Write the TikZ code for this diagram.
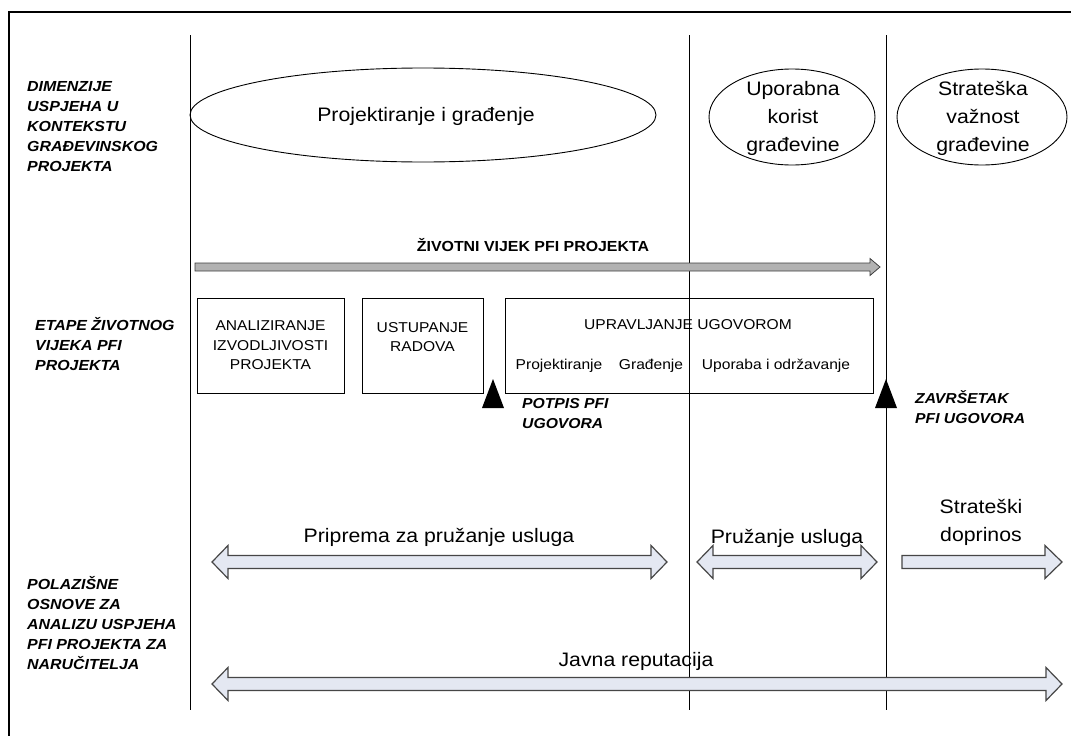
\documentclass[tikz,border=0pt]{standalone}
\usepackage{fontspec}
\setmainfont{Liberation Sans}[FakeStretch=1.09]
\usetikzlibrary{shapes.geometric}
\definecolor{arrowfill}{RGB}{228,232,242}
\definecolor{arrowline}{RGB}{70,70,70}
\newcommand\dbarrow[3]{%
  \draw[barrow] (#1,#3) -- ({#1+16},{#3-16.5}) -- ({#1+16},{#3-6.5}) -- ({#2-16},{#3-6.5}) -- ({#2-16},{#3-16.5}) -- (#2,#3) -- ({#2-16},{#3+16.5}) -- ({#2-16},{#3+6.5}) -- ({#1+16},{#3+6.5}) -- ({#1+16},{#3+16.5}) -- cycle;}
\begin{document}
\begin{tikzpicture}[x=1pt,y=-1pt,
  every node/.style={inner sep=0pt},
  lbl/.style={font=\fontsize{14.6}{20}\selectfont\bfseries\itshape, align=left, anchor=north west},
  msttext/.style={font=\fontsize{14.4}{20}\selectfont\bfseries\itshape, align=left, anchor=north west},
  big/.style={font=\fontsize{19.5}{28}\selectfont, align=center},
  small/.style={font=\fontsize{14.3}{19.5}\selectfont, align=center},
  phase/.style={draw, line width=0.9pt},
  oval/.style={draw, ellipse, line width=0.9pt},
  vline/.style={line width=0.9pt},
  barrow/.style={draw=arrowline, fill=arrowfill, line width=1.2pt, line join=miter},
  lifearrow/.style={draw=black!75, fill=gray!60, line width=0.8pt},
  tri/.style={fill=black}]
\useasboundingbox (0,0) rectangle (1071,736);
\fill[white] (0,0) rectangle (1071,736);
% frame
\coordinate (fbl) at (9,736);
\coordinate (ftl) at (9,12);
\coordinate (ftr) at (1071,12);
\draw[line width=1.4pt] (fbl) -- (ftl) -- (ftr);
% vertical lines
\coordinate (v1t) at (190,35); \coordinate (v1b) at (190,710);
\coordinate (v2t) at (689,35); \coordinate (v2b) at (689,710);
\coordinate (v3t) at (886,35); \coordinate (v3b) at (886,710);
\draw[vline] (v1t) -- (v1b);
\draw[vline] (v2t) -- (v2b);
\draw[vline] (v3t) -- (v3b);
% left labels
\node[lbl] (l1) at (27,77) {\strut DIMENZIJE\\USPJEHA U\\KONTEKSTU\\GRAĐEVINSKOG\\PROJEKTA};
\node[lbl] (l2) at (35,316) {\strut ETAPE ŽIVOTNOG\\VIJEKA PFI\\PROJEKTA};
\node[lbl] (l3) at (27,575) {\strut POLAZIŠNE\\OSNOVE ZA\\ANALIZU USPJEHA\\PFI PROJEKTA ZA\\NARUČITELJA};
% ellipses
\node[oval, minimum width=466pt, minimum height=94pt] (e1) at (423,115) {};
\node[big] (e1t) at (426,116) {Projektiranje i građenje};
\node[oval, minimum width=166pt, minimum height=96pt] (e2) at (792,117) {};
\node[big] (e2t) at (793,118) {Uporabna\\korist\\građevine};
\node[oval, minimum width=170pt, minimum height=96pt] (e3) at (982,117) {};
\node[big] (e3t) at (983,118) {Strateška\\važnost\\građevine};
% life cycle arrow
\node[font=\fontsize{14.6}{16}\selectfont\bfseries] (lct) at (533,245) {ŽIVOTNI VIJEK PFI PROJEKTA};
\draw[lifearrow] (195,263) -- (870,263) -- (870,258.5) -- (880,267) -- (870,275.5) -- (870,271) -- (195,271) -- cycle;
% phase boxes
\node[phase, minimum width=147pt, minimum height=95pt] (b1) at (270.5,345.5) {};
\node[small] (b1t) at (270.5,345.5) {ANALIZIRANJE\\IZVODLJIVOSTI\\PROJEKTA};
\node[phase, minimum width=121pt, minimum height=95pt] (b2) at (422.5,345.5) {};
\node[small] (b2t) at (422.5,337) {USTUPANJE\\RADOVA};
\node[phase, minimum width=368pt, minimum height=95pt] (b3) at (689,345.5) {};
\node[small] (b3t) at (688,325) {UPRAVLJANJE UGOVOROM};
\node[small] (b3a) at (559,366) {Projektiranje};
\node[small] (b3b) at (651,366) {Građenje};
\node[small] (b3c) at (776,366) {Uporaba i održavanje};
% milestones
\fill[tri] (493,379) -- (504,408) -- (482,408) -- cycle;
\fill[tri] (886,379) -- (897,408) -- (875,408) -- cycle;
\node[msttext] (m1) at (522,394) {\strut POTPIS PFI\\UGOVORA};
\node[msttext] (m2) at (915,389) {\strut ZAVRŠETAK\\PFI UGOVORA};
% bottom arrows
\node[big] (a1t) at (439,537) {Priprema za pružanje usluga};
\dbarrow{212}{667}{562}
\node[big] (a2t) at (787,538) {Pružanje usluga};
\dbarrow{697}{877}{562}
\node[big] (a3t) at (981,522) {Strateški\\doprinos};
\draw[barrow] (902,555.5) -- (1045,555.5) -- (1045,545.5) -- (1062,562) -- (1045,578.5) -- (1045,568.5) -- (902,568.5) -- cycle;
\node[big] (a4t) at (636,661) {Javna reputacija};
\dbarrow{212}{1062}{684}
\end{tikzpicture}
\end{document}
